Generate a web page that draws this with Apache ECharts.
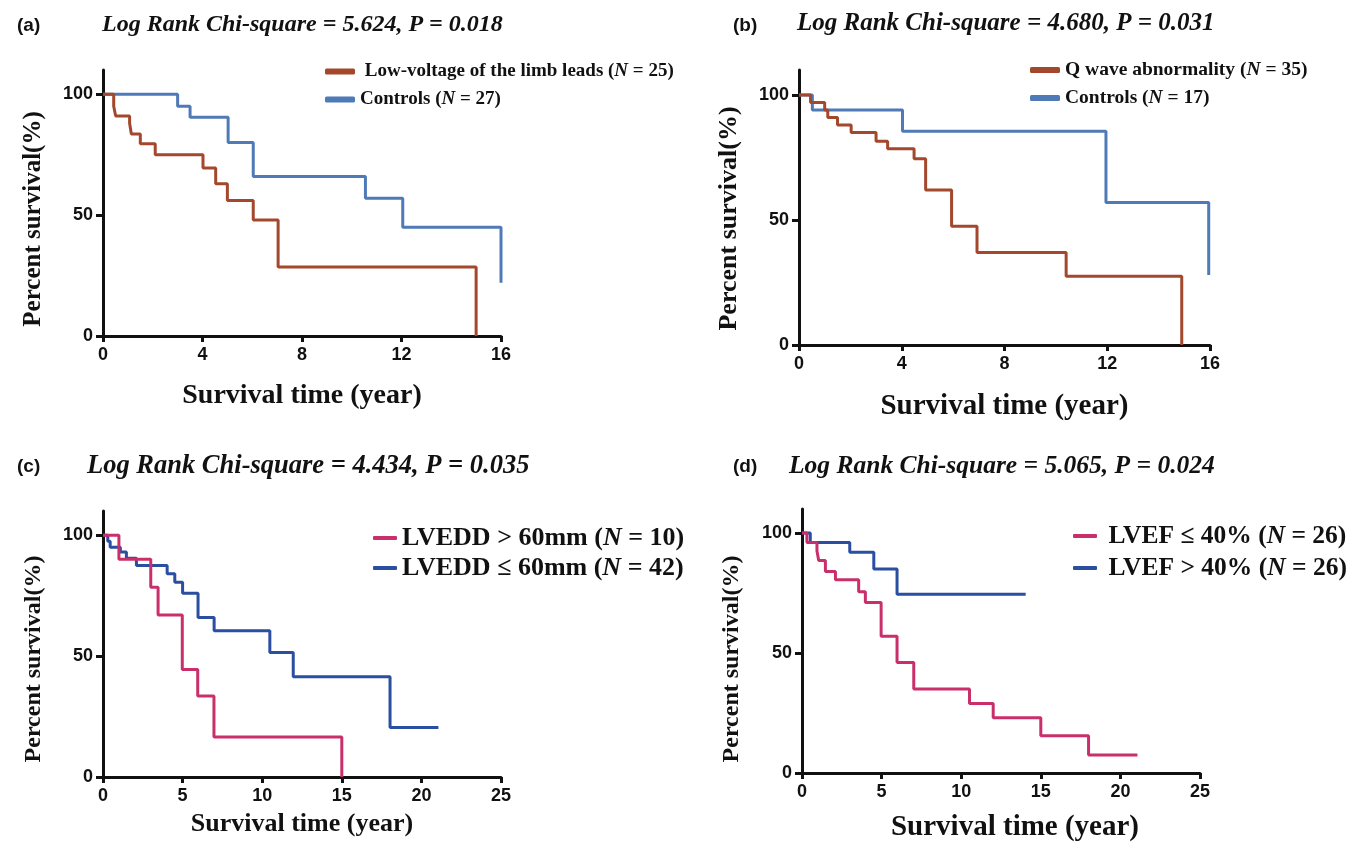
<!DOCTYPE html>
<html>
<head>
<meta charset="utf-8">
<script src="https://cdn.jsdelivr.net/npm/echarts@6/dist/echarts.min.js"></script>
<style>
  html, body { margin: 0; padding: 0; background: #fff; }
  #main { width: 1349px; height: 843px; }
</style>
</head>
<body>
<div id="main"></div>
<script>
// Kaplan-Meier curves: times (years) and survival (%)
var timesLowVolt = [0, 0.43, 0.51, 1.07, 1.14, 1.5, 2.1, 4.02, 4.53, 5.0, 6.04, 7.04, 15.0];
var survLowVolt  = [100, 95, 91, 88, 83.5, 79.5, 75, 69.5, 63, 56, 48, 28.5, 0];
var timesCtrlA = [0, 3.0, 3.5, 5.03, 6.04, 10.55, 12.05, 16.0];
var survCtrlA  = [100, 95, 90.5, 80, 66, 57, 45, 22];

var timesQwave = [0, 0.45, 1.0, 1.12, 1.5, 2.03, 3.0, 3.45, 4.48, 4.93, 5.94, 6.93, 10.4, 14.9];
var survQwave  = [100, 97, 94, 91, 88, 85, 81.5, 78.5, 74.5, 62, 47.5, 37, 27.5, 0];
var timesCtrlB = [0, 0.52, 4.03, 11.95, 15.95];
var survCtrlB  = [100, 94, 85.5, 57, 28];

var timesLvedd60 = [0, 1.0, 3.0, 3.46, 4.98, 5.95, 6.97, 15.0];
var survLvedd60  = [100, 90, 78.5, 67, 44.5, 33.5, 16.5, 0];
var timesLveddLe = [0, 0.3, 0.45, 1.09, 1.47, 2.1, 4.03, 4.51, 5.0, 5.97, 6.98, 10.48, 11.95, 18.03, 21.07];
var survLveddLe  = [100, 97.5, 95, 93, 90.5, 87.5, 84, 80.5, 76, 66, 60.5, 51.5, 41.5, 20.5, 20.5];

var timesLvefLe = [0, 0.31, 0.94, 1.05, 1.47, 2.1, 3.56, 3.98, 4.97, 5.97, 7.02, 10.52, 12.01, 15.0, 18.0, 21.07];
var survLvefLe  = [100, 96, 92.5, 88.5, 84, 80.5, 75.5, 71, 57, 46, 35, 29, 23, 15.5, 7.5, 7.5];
var timesLvef40 = [0, 0.52, 3.0, 4.51, 5.97, 14.05];
var survLvef40  = [100, 96, 92, 85, 74.5, 74.5];

var panelTags = ['(a)', '(b)', '(c)', '(d)'];
var logRankTexts = [
  'Log Rank Chi-square = 5.624, P = 0.018',
  'Log Rank Chi-square = 4.680, P = 0.031',
  'Log Rank Chi-square = 4.434, P = 0.035',
  'Log Rank Chi-square = 5.065, P = 0.024'
];
var yTicks = [0, 50, 100];

// legend labels: [before N, after N]
var legendLabels = {
  'lowvolt': [' Low-voltage of the limb leads (', ' = 25)'],
  'ctrlA': ['Controls (', ' = 27)'],
  'qwave': ['Q wave abnormality (', ' = 35)'],
  'ctrlB': ['Controls (', ' = 17)'],
  'lvedd60': ['LVEDD > 60mm (', ' = 10)'],
  'lveddLe': ['LVEDD \u2264 60mm (', ' = 42)'],
  'lvefLe': [' LVEF \u2264 40% (', ' = 26)'],
  'lvef40': [' LVEF > 40% (', ' = 26)']
};

var RED = '#a3482d', BLUE = '#4f7ab8', PINK = '#c92f6b', NAVY = '#2a4ea0';
var SERIF = 'Liberation Serif, Times New Roman, serif';
var SANS = 'Liberation Sans, Arial, sans-serif';

function zip(t, s) {
  return t.map(function (v, i) { return [v, s[i]]; });
}

var myChart = echarts.init(document.getElementById('main'), null, {width: 1349, height: 843});

var grids = [
  {left: 103, top: 70, width: 398, height: 266},
  {left: 799, top: 70, width: 411, height: 275},
  {left: 103, top: 511, width: 398, height: 266},
  {left: 802, top: 509, width: 398, height: 266}
];

// shift moves the name to the right along the axis
function xAxisFor(i, maxX, step, nameSize, gap, shift) {
  return {
    gridIndex: i, type: 'value', min: 0, max: maxX, interval: step,
    name: 'Survival time (year)', nameLocation: 'middle', nameGap: gap,
    nameTextStyle: {fontFamily: SERIF, fontWeight: 'bold', fontSize: nameSize, color: '#111',
      padding: [0, 0, 0, shift * 2]},
    axisLine: {lineStyle: {color: '#111', width: 3}},
    axisTick: {length: 6, lineStyle: {color: '#111', width: 3}},
    axisLabel: {fontFamily: SANS, fontWeight: 'bold', fontSize: 18, color: '#111', margin: 10},
    splitLine: {show: false}
  };
}
// shift moves the rotated name downwards along the axis
function yAxisFor(i, nameSize, gap, shift) {
  return {
    gridIndex: i, type: 'value', min: 0, max: 110,
    name: 'Percent survival(%)', nameLocation: 'middle', nameGap: gap,
    nameTextStyle: {fontFamily: SERIF, fontWeight: 'bold', fontSize: nameSize, color: '#111',
      padding: [0, shift * 2, 0, 0]},
    axisLine: {show: true, lineStyle: {color: '#111', width: 3}},
    axisTick: {show: true, length: 7, customValues: yTicks, lineStyle: {color: '#111', width: 3}},
    axisLabel: {fontFamily: SANS, fontWeight: 'bold', fontSize: 18, color: '#111', margin: 10, customValues: yTicks},
    splitLine: {show: false}
  };
}

function kmSeries(name, idx, data, color) {
  return {
    name: name, type: 'line', step: 'end', xAxisIndex: idx, yAxisIndex: idx,
    data: data, showSymbol: false, symbol: 'none',
    lineStyle: {color: color, width: 3}, itemStyle: {color: color}
  };
}

function legendFor(names, left, top, size, gap) {
  return {
    orient: 'vertical', left: left, top: top, data: names,
    icon: 'roundRect', itemGap: gap,
    selectedMode: false, padding: 0,
    formatter: function (n) {
      var p = legendLabels[n];
      return '{t|' + p[0] + '}{n|N}{t|' + p[1] + '}';
    },
    textStyle: {
      fontFamily: SERIF, fontWeight: 'bold', fontSize: size, color: '#111',
      rich: {
        t: {fontFamily: SERIF, fontWeight: 'bold', fontSize: size, color: '#111'},
        n: {fontFamily: SERIF, fontWeight: 'bold', fontStyle: 'italic', fontSize: size, color: '#111'}
      }
    }
  };
}

var tagPos = [[17, 16], [733, 16], [17, 457], [733, 457]];
var headPos = [[102, 13], [797, 11], [87, 453], [789, 453]];
var headSize = [24, 25, 26.5, 25.5];
var titles = [];
for (var k = 0; k < 4; k++) {
  titles.push({
    text: panelTags[k], left: tagPos[k][0], top: tagPos[k][1], padding: 0,
    textStyle: {fontFamily: SANS, fontWeight: 'bold', fontSize: 19, color: '#111'}
  });
  titles.push({
    text: logRankTexts[k], left: headPos[k][0], top: headPos[k][1], padding: 0,
    textStyle: {fontFamily: SERIF, fontWeight: 'bold', fontStyle: 'italic', fontSize: headSize[k], color: '#111'}
  });
}

var option = {
  animation: false,
  backgroundColor: '#fff',
  title: titles,
  grid: grids,
  xAxis: [
    xAxisFor(0, 16, 4, 28, 46, 0),
    xAxisFor(1, 16, 4, 29, 47, 0),
    xAxisFor(2, 25, 5, 26, 34, 0),
    xAxisFor(3, 25, 5, 29, 40, 14)
  ],
  yAxis: [
    yAxisFor(0, 25, 57, 16),
    yAxisFor(1, 26, 57, 11),
    yAxisFor(2, 24, 57, 15),
    yAxisFor(3, 24, 58, 18)
  ],
  legend: [
    legendFor(['lowvolt', 'ctrlA'], 325, 62, 19, 9),
    legendFor(['qwave', 'ctrlB'], 1030, 60, 19.5, 8),
    legendFor(['lvedd60', 'lveddLe'], 373, 525, 26, 4),
    legendFor(['lvefLe', 'lvef40'], 1073, 523, 25.5, 6)
  ].map(function (l, i) {
    l.itemWidth = i < 2 ? 30 : 24;
    l.itemHeight = i < 2 ? 6 : 4;
    return l;
  }),
  series: [
    kmSeries('ctrlA', 0, zip(timesCtrlA, survCtrlA), BLUE),
    kmSeries('lowvolt', 0, zip(timesLowVolt, survLowVolt), RED),
    kmSeries('ctrlB', 1, zip(timesCtrlB, survCtrlB), BLUE),
    kmSeries('qwave', 1, zip(timesQwave, survQwave), RED),
    kmSeries('lveddLe', 2, zip(timesLveddLe, survLveddLe), NAVY),
    kmSeries('lvedd60', 2, zip(timesLvedd60, survLvedd60), PINK),
    kmSeries('lvef40', 3, zip(timesLvef40, survLvef40), NAVY),
    kmSeries('lvefLe', 3, zip(timesLvefLe, survLvefLe), PINK)
  ]
};
myChart.setOption(option);
</script>
</body>
</html>
